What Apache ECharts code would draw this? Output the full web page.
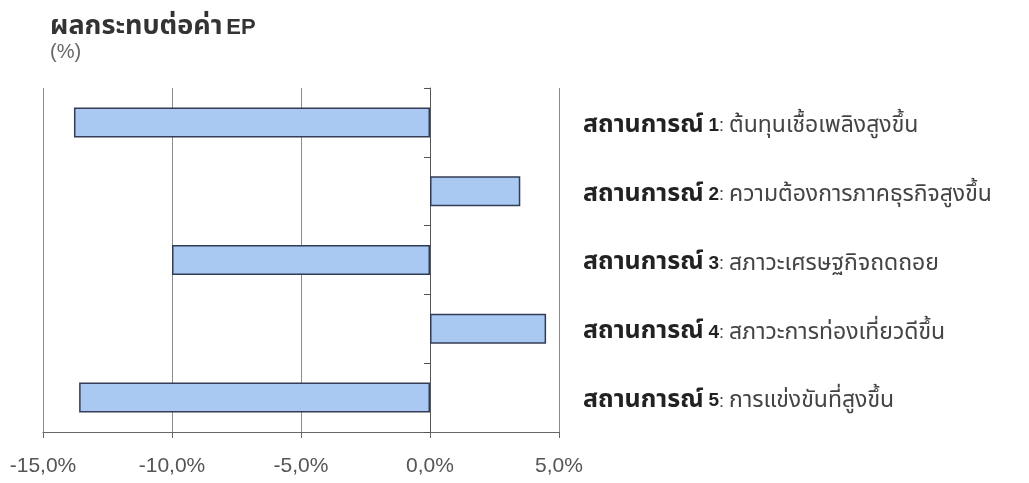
<!DOCTYPE html>
<html>
<head>
<meta charset="utf-8">
<script src="https://cdn.jsdelivr.net/npm/echarts@6/dist/echarts.min.js"></script>
<style>
html,body{margin:0;padding:0;background:#fff;}
#c{width:1029px;height:483px;}
</style>
</head>
<body>
<div id="c"></div>
<script>
var scenarioWord = 'สถานการณ์';
var scenarioNums = ['1', '2', '3', '4', '5'];
var scenarioDescs = ['ต้นทุนเชื้อเพลิงสูงขึ้น', 'ความต้องการภาคธุรกิจสูงขึ้น', 'สภาวะเศรษฐกิจถดถอย', 'สภาวะการท่องเที่ยวดีขึ้น', 'การแข่งขันที่สูงขึ้น'];
var epImpact = [-13.8, 3.5, -10.0, 4.5, -13.6];
var xTicks = [-15, -10, -5, 0, 5];

var categories = scenarioNums.map(function (n) { return scenarioWord + ' ' + n; });
var FONT = '"Liberation Sans", Arial, "Noto Sans Thai", "Noto Sans", sans-serif';
function rs(size, weight, color, raise) {
  return {fontFamily: FONT, fontSize: size, fontWeight: weight, color: color, lineHeight: 30,
          verticalAlign: 'bottom', padding: [0, 0, raise || 0, 0]};
}
var chart = echarts.init(document.getElementById('c'));
chart.setOption({
  backgroundColor: '#fff',
  animation: false,
  title: [
    {text: '{t|ผลกระทบต่อค่า}{s| }{e|EP}', left: 50, top: 10, padding: 0,
     textStyle: {rich: {
       t: rs(27, 'bold', '#333'),
       s: rs(14, 'normal', '#333'),
       e: rs(22, 'bold', '#333', 1)
     }}},
    {text: '(%)', left: 50, top: 42, padding: 0,
     textStyle: {fontFamily: FONT, fontSize: 20, fontWeight: 'normal', color: '#666'}}
  ],
  grid: {left: 43, right: 470, top: 88, bottom: 51},
  xAxis: {
    type: 'value', min: xTicks[0], max: xTicks[xTicks.length - 1], interval: 5,
    axisLine: {show: true, onZero: false, lineStyle: {color: '#666', width: 1}},
    axisTick: {show: true, length: 6, lineStyle: {color: '#666'}},
    splitLine: {show: true, lineStyle: {color: '#8a8a8a', width: 1}},
    axisLabel: {
      margin: 24, fontFamily: FONT, fontSize: 21, color: '#555',
      formatter: function (v) { return v.toFixed(1).replace('.', ',') + '%'; }
    }
  },
  yAxis: [
    {
      type: 'category', data: categories, inverse: true,
      axisLine: {show: true, onZero: true, lineStyle: {color: '#555', width: 1}},
      axisTick: {show: true, length: 6, lineStyle: {color: '#555'}},
      axisLabel: {show: false},
      splitLine: {show: false}
    },
    {
      type: 'category', data: categories, inverse: true, position: 'right',
      axisLine: {show: false}, axisTick: {show: false}, splitLine: {show: false},
      axisLabel: {
        show: true, margin: 24, align: 'left',
        formatter: function (v, i) {
          return '{b|' + scenarioWord + '}{c| }{d|' + scenarioNums[i] + '}{c|: }{n|' + scenarioDescs[i] + '}';
        },
        rich: {
          b: rs(25, 'bold', '#222'),
          d: rs(19, 'bold', '#222', 2),
          c: rs(18, 'normal', '#444', 2),
          n: rs(23, 'normal', '#444')
        }
      }
    }
  ],
  series: [{
    type: 'bar', data: epImpact, yAxisIndex: 0,
    barWidth: 30,
    itemStyle: {color: '#a9c8f2', borderColor: '#333c55', borderWidth: 1.5}
  }]
});
</script>
</body>
</html>
